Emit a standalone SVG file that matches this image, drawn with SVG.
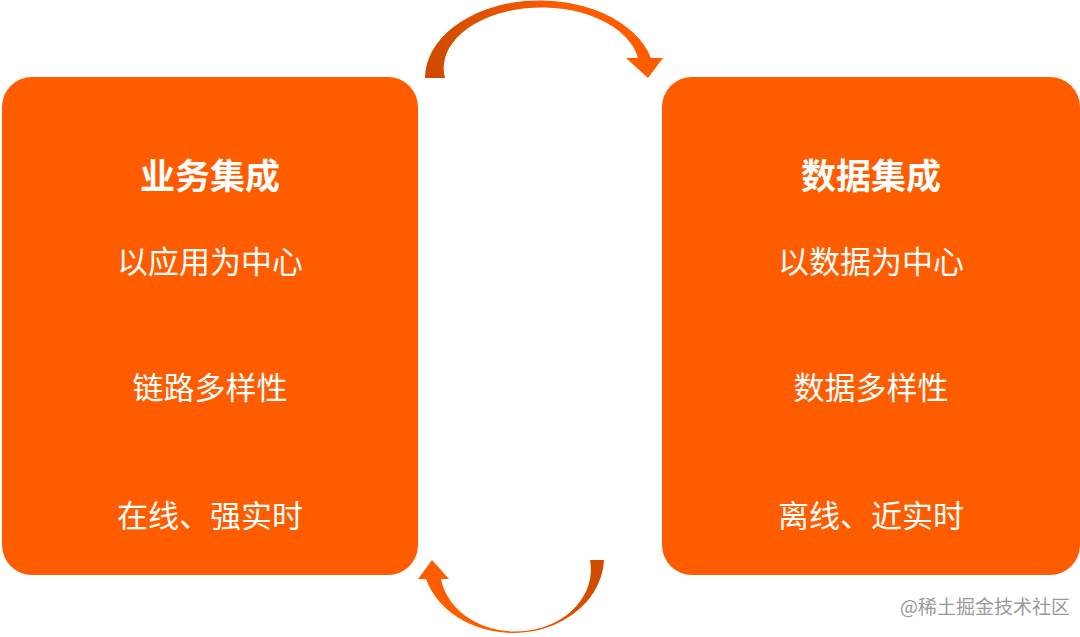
<svg xmlns="http://www.w3.org/2000/svg" width="1080" height="637" viewBox="0 0 1080 637">
<style>
.box{fill:#ff5c00}
text{fill:#fff;font-family:"Noto Sans CJK SC","Noto Sans",sans-serif;text-anchor:middle}
.t{font-size:35px;font-weight:bold}
.s{font-size:31px}
.wm{fill:#9a9a9a;font-size:19px}
</style>
<defs>
<linearGradient id="g1" x1="0" x2="1" y1="0" y2="0"><stop offset="0" stop-color="#cc4a00"/><stop offset="0.6" stop-color="#ff5c00"/></linearGradient>
<linearGradient id="g2" x1="1" x2="0" y1="0" y2="0"><stop offset="0" stop-color="#cc4a00"/><stop offset="0.6" stop-color="#ff5c00"/></linearGradient>
</defs>
<g id="left"><rect class="box" x="2" y="77" width="416" height="498" rx="30"/>
<text class="t" x="210" y="189">业务集成</text>
<text class="s" x="210" y="273">以应用为中心</text>
<text class="s" x="210" y="399">链路多样性</text>
<text class="s" x="210" y="527">在线、强实时</text></g>
<g id="right"><rect class="box" x="662" y="77" width="418" height="498" rx="30"/>
<text class="t" x="871" y="189">数据集成</text>
<text class="s" x="871" y="273">以数据为中心</text>
<text class="s" x="871" y="399">数据多样性</text>
<text class="s" x="871" y="527">离线、近实时</text></g>
<g id="connectors">
<path fill="url(#g1)" d="M425,78 A115,78 0 0 1 651,58 L663,58 L648,78 L626,58 L638,58 A97,60 0 0 0 445,78 Z"/>
<path fill="url(#g2)" d="M604,560 A91,76 0 0 1 426,579 L418,579 L432,560 L449,579 L441,579 A73,60 0 0 0 590,560 Z"/>
</g>
<text class="wm" x="985" y="614">@稀土掘金技术社区</text>
</svg>
